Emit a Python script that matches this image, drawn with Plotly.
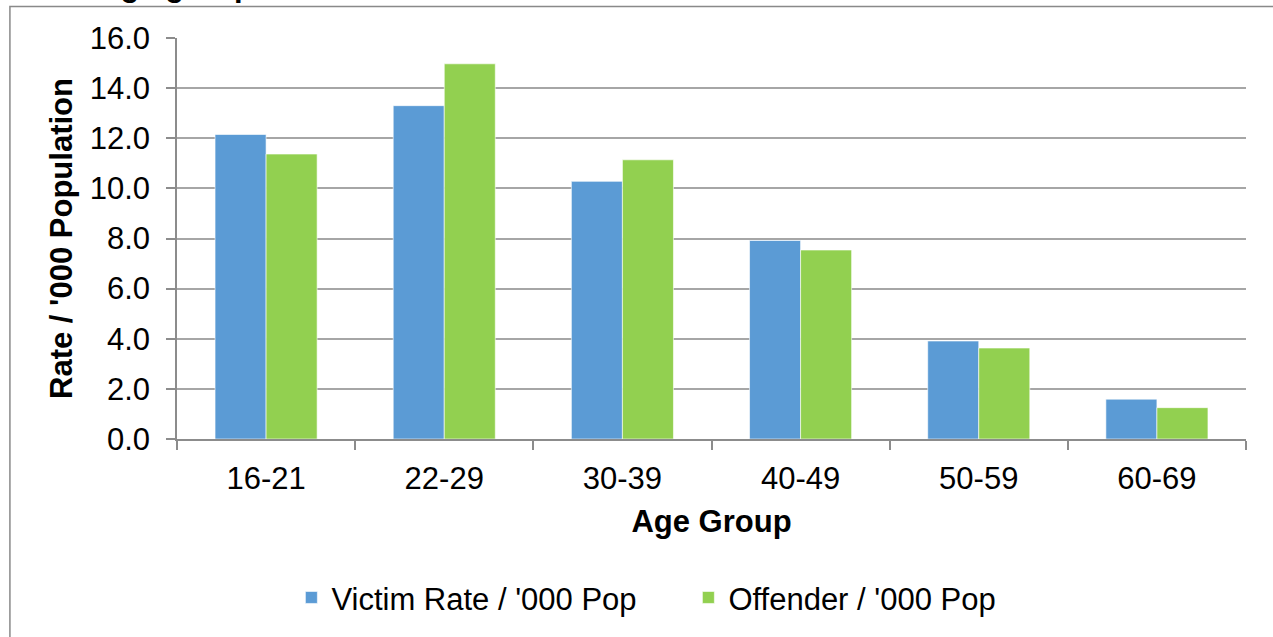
import plotly.graph_objects as go

# Age bands and rates per thousand population
age_groups = ["16-21", "22-29", "30-39", "40-49", "50-59", "60-69"]
victim_rate = [12.15, 13.3, 10.28, 7.92, 3.91, 1.59]
offender_rate = [11.37, 14.97, 11.14, 7.54, 3.63, 1.25]
y_ticks = [0, 2, 4, 6, 8, 10, 12, 14, 16]

FONT = "Liberation Sans, Arial, sans-serif"
BLUE = "#5B9BD5"
GREEN = "#92D050"
GRID = "#A6A6A6"
AXIS = "#8C8C8C"

fig = go.Figure()
fig.add_trace(go.Bar(
    x=age_groups, y=victim_rate, name="Victim Rate / '000 Pop",
    marker=dict(color=BLUE, line=dict(color="rgba(255,255,255,0.6)", width=1)),
))
fig.add_trace(go.Bar(
    x=age_groups, y=offender_rate, name="Offender / '000 Pop",
    marker=dict(color=GREEN, line=dict(color="rgba(255,255,255,0.6)", width=1)),
))

fig.update_layout(
    width=1273, height=637,
    margin=dict(l=177, r=27, t=38, b=198),
    paper_bgcolor="white", plot_bgcolor="white",
    font=dict(family=FONT, size=31, color="black"),
    barmode="group", bargap=0.427, bargroupgap=0,
    showlegend=True,
    legend=dict(
        orientation="h", x=0.107, xanchor="left", y=-0.396, yanchor="middle",
        font=dict(size=31), entrywidth=352, entrywidthmode="pixels",
        bgcolor="rgba(0,0,0,0)",
    ),
    xaxis=dict(
        showline=True, linecolor=AXIS, linewidth=1.5,
        ticks="outside", tickson="boundaries", ticklen=9, tickcolor=AXIS, tickwidth=1.5,
        tickfont=dict(size=31), ticklabelstandoff=11,
        title=dict(text="<b>Age Group</b>", font=dict(size=31), standoff=15),
        showgrid=False,
    ),
    yaxis=dict(
        range=[0, 16], tickvals=y_ticks, tickformat=".1f",
        showline=True, linecolor=AXIS, linewidth=1.5,
        ticks="outside", ticklen=9, tickcolor=AXIS, tickwidth=1.5,
        tickfont=dict(size=31), ticklabelstandoff=10,
        showgrid=True, gridcolor=GRID, gridwidth=1.5,
        zeroline=False,
        title=dict(text="<b>Rate / '000 Population</b>", font=dict(size=31), standoff=8),
    ),
    shapes=[
        # chart-area frame
        dict(type="rect", xref="paper", yref="paper",
             x0=-0.1563, x1=1.06, y0=-0.6, y1=1.0787,
             line=dict(color="#898989", width=1.5), fillcolor="rgba(0,0,0,0)", layer="below"),
    ],
    annotations=[
        dict(text="<b>Age group</b>", xref="paper", yref="paper",
             x=-0.0758, xanchor="left", y=1.082, yanchor="bottom",
             showarrow=False, font=dict(size=31, color="black")),
    ],
)

fig.write_html("out.html")
